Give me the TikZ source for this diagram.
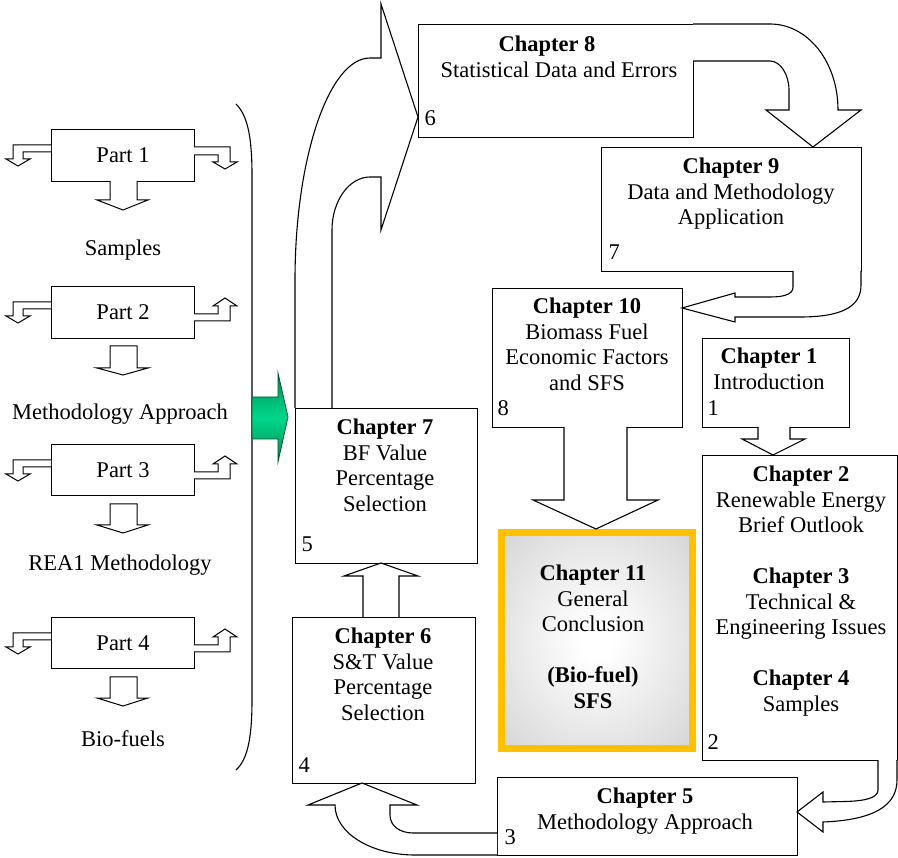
\documentclass[tikz,border=0pt]{standalone}
\usepackage{fontspec}
\setmainfont{Liberation Serif}
\definecolor{gold}{RGB}{255,192,0}
\definecolor{gdark}{RGB}{0,140,80}
\definecolor{glight}{RGB}{0,215,140}
\definecolor{gline}{RGB}{0,80,45}
\pgfdeclareradialshading{softgray}{\pgfpoint{0bp}{0bp}}{%
  color(0bp)=(white); color(4bp)=(white); color(50bp)=(black!24); color(72bp)=(black!29)}
\begin{document}
\begin{tikzpicture}[x=1pt,y=-1pt,line join=miter,
  every node/.style={font=\fontsize{22.5}{25.5}\selectfont},
  box/.style={draw,line width=1.1pt,rectangle,inner sep=0pt,anchor=north west},
  txt/.style={inner sep=0pt,align=center,anchor=north},
  num/.style={inner sep=0pt,anchor=base west},
  lbl/.style={inner sep=0pt,text height=15pt,text depth=0pt,anchor=center},
  blk/.style={draw,line width=1.1pt,fill=white,line join=miter},
  thin/.style={draw,line width=1pt,fill=white,line join=miter}]
\useasboundingbox (0,0) rectangle (898,858);

% ---------- left column ----------
\node[box,minimum width=143pt,minimum height=52pt] (p1) at (51,129) {Part 1};
\node[box,minimum width=143pt,minimum height=52pt] (p2) at (51,286) {Part 2};
\node[box,minimum width=143pt,minimum height=51pt] (p3) at (51,444) {Part 3};
\node[box,minimum width=143pt,minimum height=51pt] (p4) at (51,617) {Part 4};

\node[lbl] (l1) at (123,248) {Samples};
\node[lbl] (l2) at (120,412) {Methodology Approach};
\node[lbl] (l3) at (120,563) {REA1 Methodology};
\node[lbl] (l4) at (123,739) {Bio-fuels};

% left side down-pointing L arrows
\foreach \T in {129,286,444,617}{
  \path[thin] (51,\T+16) -- (13,\T+16) -- (13,\T+30) -- (6,\T+30) -- (18,\T+37)
     -- (30,\T+30) -- (23,\T+30) -- (23,\T+23) -- (51,\T+23);
}
% right side of Part 1 (down)
\path[thin] (194,147) -- (230,147) -- (230,162) -- (237,162) -- (225,169)
   -- (213,162) -- (218,162) -- (218,155) -- (194,155);
% right side of Parts 2-4 (up)
\foreach \T in {286,444,617}{
  \path[thin] (194,\T+35) -- (230,\T+35) -- (230,\T+20) -- (237,\T+20) -- (225,\T+12)
     -- (213,\T+20) -- (218,\T+20) -- (218,\T+28) -- (194,\T+28);
}
% down arrows under the parts
\path[thin] (110,181) -- (110,200) -- (97,200) -- (123,210) -- (148,200) -- (137,200) -- (137,181);
\path[thin] (110,346) -- (110,368) -- (97,368) -- (123,375) -- (148,368) -- (137,368) -- (137,346) -- cycle;
\path[thin] (110,504) -- (110,525) -- (97,525) -- (123,533) -- (148,525) -- (137,525) -- (137,504) -- cycle;
\path[thin] (110,677) -- (110,698) -- (97,698) -- (123,706) -- (148,698) -- (137,698) -- (137,677) -- cycle;

% brace
\draw[line width=1.1pt] (236,104) .. controls (247,115) and (252,135) .. (252,175)
   -- (252,700) .. controls (252,740) and (247,760) .. (236,770);

% green arrow
\path[draw=gline,line width=0.8pt,top color=gdark,bottom color=gdark,middle color=glight]
  (252,397) -- (278,397) -- (278,373) -- (288,417) -- (278,462) -- (278,439) -- (252,439) -- cycle;

% ---------- chapter boxes ----------
\node[box,minimum width=275pt,minimum height=113pt] (ch8) at (418,24) {};
\node[box,minimum width=260pt,minimum height=124pt] (ch9) at (601,147) {};
\node[box,minimum width=190pt,minimum height=139pt] (ch10) at (492,288) {};
\node[box,minimum width=147pt,minimum height=89pt] (ch1) at (702,338) {};
\node[box,minimum width=195pt,minimum height=305pt] (ch2) at (702,455) {};
\node[box,minimum width=300pt,minimum height=78pt] (ch5) at (497,777) {};
\node[box,minimum width=183pt,minimum height=166pt] (ch6) at (292,617) {};
\node[box,minimum width=182pt,minimum height=155pt] (ch7) at (295,408) {};
\node[draw=gold,line width=7pt,inner sep=0pt,anchor=north west,
      minimum width=191pt,minimum height=215pt,
      shading=softgray] (ch11) at (497.5,529.5) {};

% texts
\node[txt] (t8) at (555,36) {\textbf{Chapter 8}\hspace*{16pt}\\Statistical Data and Errors\hspace*{-8pt}};
\node[txt] (t9) at (731,158) {\textbf{Chapter 9}\\Data and Methodology\\Application};
\node[txt] (t10) at (587,298) {\textbf{Chapter 10}\\Biomass Fuel\\Economic Factors\\and SFS};
\node[txt] (t1) at (769,348) {\textbf{Chapter 1}\\Introduction};
\node[txt] (t2) at (801,466) {\textbf{Chapter 2}\\Renewable Energy\\Brief Outlook\\[25.5pt]\textbf{Chapter 3}\\Technical \&\\Engineering Issues\\[25.5pt]\textbf{Chapter 4}\\Samples};
\node[txt] (t7) at (385,419) {\textbf{Chapter 7}\\BF Value\\Percentage\\Selection};
\node[txt] (t6) at (383,628) {\textbf{Chapter 6}\\S\&T Value\\Percentage\\Selection};
\node[txt] (t5) at (645,788) {\textbf{Chapter 5}\\Methodology Approach};
\node[txt] (t11) at (593,565) {\textbf{Chapter 11}\\General\\Conclusion\\[25.5pt]\textbf{(Bio-fuel)}\\\textbf{SFS}};

% numbers
\node[num] (n6) at (424.5,126) {6};
\node[num] (n7) at (608.5,260) {7};
\node[num] (n8) at (497.5,416) {8};
\node[num] (n1) at (707.5,416) {1};
\node[num] (n2) at (707.5,749) {2};
\node[num] (n3) at (504.5,844) {3};
\node[num] (n4) at (298.5,772) {4};
\node[num] (n5) at (301.5,552) {5};

% ---------- block arrows ----------
% Ch7 -> Ch8
\path[blk] (295,408) -- (295,280) .. controls (295,158) and (329,58) .. (370,58)
   -- (381,58) -- (381,4) -- (418,117) -- (381,230) -- (381,177) -- (370,177)
   .. controls (349,177) and (332,201) .. (332,230) -- (332,408);
% Ch8 -> Ch9
\path[blk] (693,24) -- (770,24) .. controls (808,24) and (838,62) .. (838,110)
   -- (861,110) -- (813,147) -- (766,110) -- (789,110) -- (789,90)
   .. controls (789,74) and (780,61) .. (770,61) -- (693,61);
% Ch9 -> Ch10
\path[blk] (793,271) -- (793,287) .. controls (793,294) and (785,297) .. (770,297)
   -- (735,297) -- (735,293) -- (682,308) -- (735,322) -- (735,317) -- (800,317)
   .. controls (845,317) and (861,305) .. (861,285) -- (861,271);
% Ch10 -> Ch11
\path[blk] (564,427) -- (564,500) -- (533,500) -- (596,529) -- (658,500) -- (627,500) -- (627,427);
% Ch1 -> Ch2
\path[blk] (758,427) -- (758,439) -- (742,439) -- (773,455) -- (805,439) -- (790,439) -- (790,427);
% Ch2 -> Ch5
\path[blk] (878,760) -- (878,790) .. controls (878,798) and (865,801) .. (845,801.5)
   -- (823,802) -- (823,792) -- (797,812) -- (823,832) -- (823,822)
   .. controls (875,820) and (897,805) .. (897,780) -- (897,760);
% Ch5 -> Ch6
\path[blk] (497,833) -- (413,833) .. controls (400,833) and (390,826) .. (390,815)
   -- (390,805) -- (417,805) -- (362,783) -- (308,805) -- (335,805)
   .. controls (335,833) and (371,855) .. (415,855) -- (497,855);
% Ch6 -> Ch7
\path[blk] (363,617) -- (363,576) -- (344,576) -- (381,563) -- (418,576) -- (399,576) -- (399,617);
\end{tikzpicture}
\end{document}
